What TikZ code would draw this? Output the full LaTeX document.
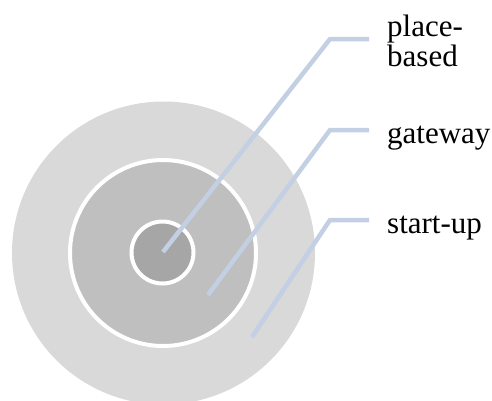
\documentclass[tikz,border=0pt]{standalone}
\usepackage{fontspec}
\setmainfont{Liberation Serif}
\definecolor{ringA}{HTML}{D9D9D9}
\definecolor{ringB}{HTML}{BFBFBF}
\definecolor{ringC}{HTML}{A6A6A6}
\definecolor{leader}{HTML}{C3CFE2}
\begin{document}
\begin{tikzpicture}[x=1pt,y=-1pt,
  leaderline/.style={draw=leader,line width=4.5pt},
  lbl/.style={anchor=base west,inner sep=0pt,font=\fontsize{31}{28}\selectfont,align=left}]
\useasboundingbox (0,0) rectangle (492,400);
\clip (0,0) rectangle (492,400);
\fill[ringA] (163.5,253) circle[radius=151.5];
\draw[fill=ringB,draw=white,line width=4pt] (163,253) circle[radius=93];
\draw[fill=ringC,draw=white,line width=4pt] (162.5,252.5) circle[radius=31];
\coordinate (p1) at (163,252);
\coordinate (p2) at (208,295);
\coordinate (p3) at (252,337);
\coordinate (e1) at (330,39);
\coordinate (e2) at (330,130);
\coordinate (e3) at (330,220);
\coordinate (h1) at (369,39);
\coordinate (h2) at (369,130);
\coordinate (h3) at (369,220);
\draw[leaderline] (p1) -- (e1) -- (h1);
\draw[leaderline] (p2) -- (e2) -- (h2);
\draw[leaderline] (p3) -- (e3) -- (h3);
\node[lbl] (t1) at (387,66) {place-\\based};
\node[lbl] (t2) at (387,143) {gateway};
\node[lbl] (t3) at (387,233) {start-up};
\end{tikzpicture}
\end{document}
